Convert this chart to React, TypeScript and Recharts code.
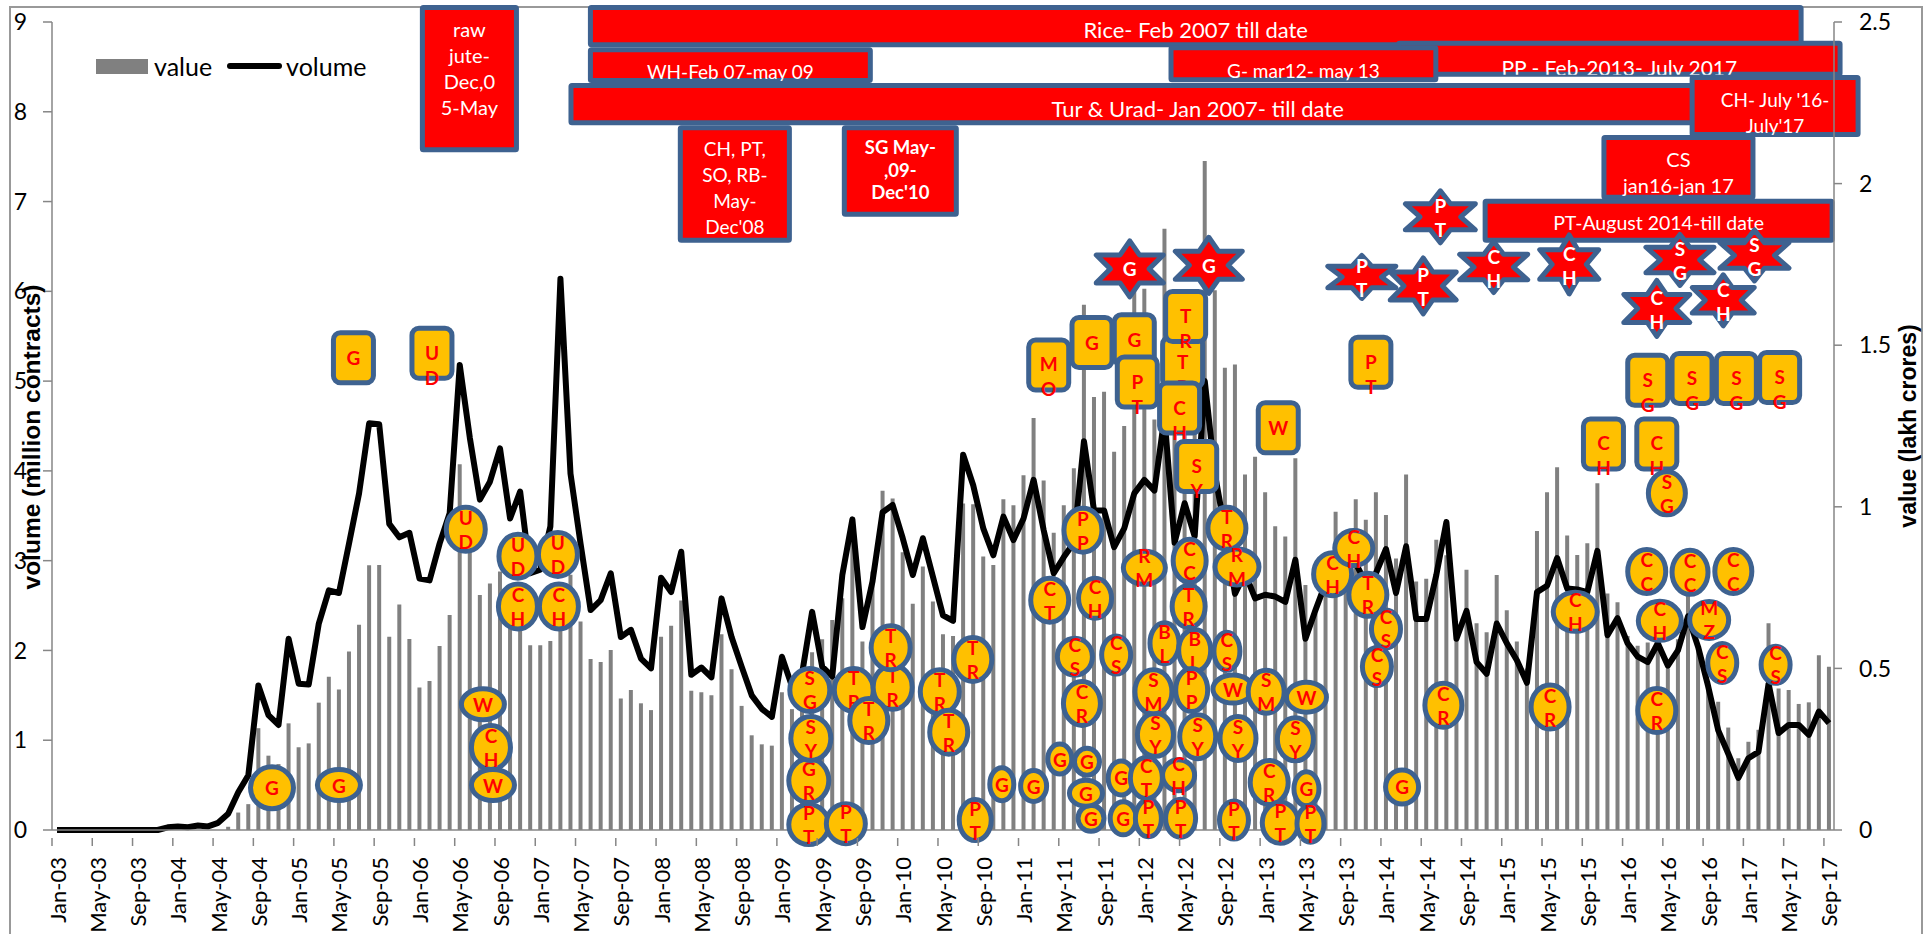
// Monthly commodity futures volume and value, with the suspension banners and
// commodity markers laid over it. Notes sit on a hidden numeric month axis.

import {
  Bar,
  ComposedChart,
  Legend,
  Line,
  ReferenceArea,
  ReferenceDot,
  XAxis,
  YAxis,
} from 'recharts';

const monthNames = ['Jan', 'Feb', 'Mar', 'Apr', 'May', 'Jun', 'Jul', 'Aug', 'Sep', 'Oct', 'Nov', 'Dec'];
const years = ['03', '04', '05', '06', '07', '08', '09', '10', '11', '12', '13', '14', '15', '16', '17'];
const months = years.flatMap((y) => monthNames.map((m) => `${m}-${y}`)).slice(0, 177);

// million contracts, left axis
const volume = [
  0, 0, 0, 0, 0, 0, 0, 0, 0, 0,
  0, 0.03, 0.04, 0.03, 0.05, 0.04, 0.08, 0.18, 0.42, 0.61,
  1.61, 1.28, 1.17, 2.13, 1.63, 1.62, 2.3, 2.67, 2.64, 3.19,
  3.75, 4.53, 4.52, 3.41, 3.26, 3.31, 2.8, 2.78, 3.19, 3.53,
  5.18, 4.37, 3.68, 3.88, 4.25, 3.47, 3.77, 2.86, 2.9, 3.38,
  6.14, 3.97, 3.19, 2.45, 2.56, 2.86, 2.15, 2.23, 1.91, 1.8,
  2.81, 2.65, 3.1, 1.73, 1.81, 1.7, 2.58, 2.15, 1.82, 1.5,
  1.35, 1.26, 1.93, 1.6, 1.74, 2.43, 1.82, 1.71, 2.84, 3.46,
  2.26, 2.77, 3.54, 3.62, 3.25, 2.84, 3.25, 2.82, 2.39, 2.33,
  4.18, 3.84, 3.36, 3.06, 3.49, 3.23, 3.47, 3.9, 3.34, 2.86,
  3.04, 3.2, 4.33, 3.56, 3.56, 3.15, 3.36, 3.75, 3.9, 3.78,
  4.6, 3.2, 3.64, 3.27, 5.0, 3.97, 3.34, 2.63, 2.86, 2.58,
  2.62, 2.6, 2.54, 3.01, 2.13, 2.45, 2.75, 2.9, 2.95, 2.97,
  2.75, 2.86, 3.13, 2.64, 3.16, 2.35, 2.35, 2.84, 3.43, 2.13,
  2.44, 1.87, 1.74, 2.3, 2.08, 1.89, 1.64, 2.65, 2.72, 3.03,
  2.69, 2.68, 2.65, 3.11, 2.17, 2.36, 2.08, 1.93, 1.87, 2.08,
  1.83, 2.0, 2.38, 2.04, 1.6, 1.11, 0.85, 0.58, 0.8, 0.87,
  1.63, 1.08, 1.17, 1.17, 1.06, 1.32, 1.19,
];

// lakh crores, right axis
const value = [
  0, 0, 0, 0, 0, 0, 0, 0, 0, 0,
  0, 0, 0, 0, 0, 0, 0, 0.01, 0.054, 0.08,
  0.315, 0.23, 0.204, 0.33, 0.256, 0.268, 0.394, 0.474, 0.435, 0.552,
  0.635, 0.819, 0.82, 0.598, 0.698, 0.591, 0.441, 0.461, 0.569, 0.665,
  1.132, 0.86, 0.727, 0.763, 0.8, 0.73, 0.7, 0.572, 0.572, 0.585,
  0.65, 0.79, 0.645, 0.529, 0.52, 0.557, 0.407, 0.433, 0.392, 0.371,
  0.598, 0.632, 0.71, 0.431, 0.426, 0.417, 0.606, 0.497, 0.384, 0.293,
  0.265, 0.261, 0.426, 0.374, 0.42, 0.55, 0.59, 0.65, 0.717, 0.95,
  0.583, 0.8, 1.05, 1.026, 0.859, 0.7, 0.815, 0.707, 0.606, 0.6,
  1.01, 1.008, 0.846, 0.82, 1.023, 1.005, 1.098, 1.275, 1.081, 0.92,
  1.005, 1.119, 1.625, 1.34, 1.356, 1.17, 1.25, 1.67, 1.675, 1.27,
  1.86, 1.3, 1.35, 1.4, 2.07, 1.67, 1.43, 1.44, 1.1, 1.155,
  1.045, 0.94, 0.908, 1.15, 0.758, 0.67, 0.75, 0.985, 0.8, 1.023,
  0.96, 1.045, 0.975, 0.84, 1.1, 0.769, 0.777, 0.898, 0.85, 0.6,
  0.805, 0.64, 0.612, 0.789, 0.68, 0.583, 0.5, 0.925, 1.045, 1.122,
  0.911, 0.851, 0.887, 1.073, 0.732, 0.705, 0.6, 0.57, 0.58, 0.6,
  0.5, 0.59, 0.73, 0.57, 0.46, 0.397, 0.317, 0.222, 0.273, 0.31,
  0.64, 0.438, 0.433, 0.39, 0.395, 0.541, 0.505,
];

const leftTicks = [0, 1, 2, 3, 4, 5, 6, 7, 8, 9];
const rightTicks = [0, 0.5, 1, 1.5, 2, 2.5];

// [lines, month from, month to, volume top, volume bottom]
const banners: [string[], number, number, number, number][] = [
  [['raw', 'jute-', 'Dec,0', '5-May'], 36.54, 46.38, 9.19, 7.55],
  [['CH, PT,', 'SO, RB-', 'May-', "Dec'08"], 62.16, 73.49, 7.85, 6.54],
  [['SG May-', ',09-', "Dec'10"], 78.45, 90.07, 7.85, 6.83],
  [['Rice- Feb 2007  till date'], 53.23, 173.98, 9.19, 8.72],
  [['WH-Feb 07-may 09'], 53.23, 81.53, 8.72, 8.32],
  [['PP - Feb-2013- July 2017'], 133.5, 177.85, 8.79, 8.39],
  [['G- mar12- may 13'], 110.9, 137.7, 8.74, 8.33],
  [['Tur & Urad- Jan 2007- till date'], 51.3, 176.3, 8.32, 7.85],
  [["CH- July '16-", "July'17"], 162.66, 179.64, 8.41, 7.72],
  [['CS', 'jan16-jan 17'], 153.9, 169.2, 7.74, 7.02],
  [['PT-August 2014-till date'], 142.1, 177.06, 7.03, 6.54],
];
const bannerFontSizes = [20, 19, 18.5, 22, 19, 21, 19, 22, 19, 20, 19.5];
const bannerTextTops = [24, 23, 22, 25, 24, 27, 25, 25, 25, 24, 24];

// [label, month, volume level]
const tags: [string, number, number][] = [
  ['G', 29.94, 5.26], ['UD', 37.74, 5.31], ['MO', 99.0, 5.18], ['G', 103.3, 5.43],
  ['G', 107.5, 5.46], ['PT', 107.8, 4.99], ['TR', 112.3, 5.21], ['TR', 112.6, 5.72],
  ['CH', 112.0, 4.7], ['SY', 113.7, 4.05], ['W', 121.8, 4.48], ['PT', 131.0, 5.21],
  ['SG', 158.5, 5.01], ['SG', 162.9, 5.03], ['SG', 167.3, 5.03], ['SG', 171.6, 5.04],
  ['CH', 154.1, 4.3], ['CH', 159.4, 4.3],
];

// [label, month, volume level, width, height]
const ovals: [string, number, number, number, number][] = [
  ['G', 21.85, 0.47, 47, 46], ['G', 28.5, 0.5, 47, 35], ['UD', 41.1, 3.35, 43, 48],
  ['UD', 46.28, 3.05, 42, 48], ['UD', 50.25, 3.07, 43, 48], ['CH', 46.28, 2.49, 43, 49],
  ['CH', 50.35, 2.49, 43, 49], ['W', 42.8, 1.4, 47, 35], ['CH', 43.6, 0.92, 43, 48],
  ['W', 43.8, 0.5, 47, 35], ['PT', 75.17, 0.06, 44, 44], ['GR', 75.17, 0.55, 44, 48],
  ['SY', 75.37, 1.02, 44, 48], ['SG', 75.27, 1.56, 44, 47], ['PT', 78.85, 0.07, 43, 44],
  ['TR', 79.64, 1.56, 43, 47], ['TR', 83.5, 1.59, 43, 48], ['TR', 81.13, 1.22, 42, 48],
  ['TR', 83.3, 2.03, 43, 48], ['TR', 88.18, 1.54, 43, 48], ['TR', 89.07, 1.09, 42, 48],
  ['TR', 91.46, 1.9, 42, 48], ['PT', 91.7, 0.11, 36, 45], ['G', 94.34, 0.51, 28, 37],
  ['G', 97.5, 0.49, 30, 35], ['G', 100.1, 0.79, 28, 34], ['G', 102.8, 0.76, 29, 31],
  ['G', 103.2, 0.13, 30, 30], ['G', 102.7, 0.41, 37, 30], ['G', 106.4, 0.13, 30, 37],
  ['G', 106.2, 0.58, 30, 38], ['CH', 111.9, 0.61, 36, 35], ['CT', 108.7, 0.58, 36, 45],
  ['PT', 108.9, 0.13, 30, 41], ['PT', 112.1, 0.13, 34, 42], ['PT', 117.4, 0.11, 33, 42],
  ['CR', 120.9, 0.53, 42, 48], ['PT', 122.0, 0.08, 40, 45], ['SY', 109.6, 1.06, 40, 47],
  ['SY', 113.8, 1.04, 40, 48], ['SY', 117.8, 1.02, 40, 48], ['SM', 109.4, 1.54, 41, 48],
  ['BL', 110.5, 2.08, 33, 45], ['BL', 113.5, 2.0, 36, 46], ['PP', 113.2, 1.56, 36, 47],
  ['CS', 116.7, 1.99, 30, 42], ['W', 117.3, 1.57, 44, 32], ['SM', 120.6, 1.54, 40, 47],
  ['CS', 101.6, 1.93, 39, 41], ['CR', 102.3, 1.41, 41, 48], ['CS', 105.7, 1.95, 33, 42],
  ['CT', 99.1, 2.56, 42, 48], ['CH', 103.6, 2.58, 37, 44], ['PP', 102.4, 3.34, 42, 48],
  ['RM', 108.5, 2.92, 46, 37], ['CC', 113.0, 3.0, 37, 47], ['TR', 112.9, 2.49, 37, 46],
  ['TR', 116.7, 3.36, 42, 46], ['RM', 117.7, 2.93, 48, 40], ['W', 124.6, 1.48, 44, 34],
  ['SY', 123.5, 1.01, 40, 47], ['G', 124.6, 0.46, 29, 38], ['PT', 125.0, 0.07, 31, 41],
  ['CH', 127.2, 2.85, 42, 47], ['CH', 129.3, 3.14, 42, 39], ['TR', 130.7, 2.62, 42, 47],
  ['CS', 132.5, 2.24, 33, 42], ['CS', 131.6, 1.82, 33, 42], ['G', 134.1, 0.48, 37, 38],
  ['CR', 138.2, 1.39, 41, 48], ['CR', 148.8, 1.37, 42, 48], ['CR', 159.4, 1.33, 42, 48],
  ['CH', 151.3, 2.43, 48, 43], ['SG', 160.4, 3.75, 41, 47], ['CC', 158.4, 2.88, 42, 48],
  ['CC', 162.7, 2.87, 40, 48], ['CC', 167.0, 2.88, 41, 48], ['CH', 159.7, 2.33, 47, 43],
  ['MZ', 164.6, 2.34, 43, 41], ['CS', 165.9, 1.86, 33, 43], ['CS', 171.2, 1.84, 33, 41],
];

// [label, month, volume level, width, height]
const stars: [string, number, number, number, number][] = [
  ['G', 107.05, 6.25, 71, 60], ['G', 114.9, 6.29, 71, 60], ['PT', 137.9, 6.83, 74, 56],
  ['PT', 130.1, 6.16, 72, 47], ['PT', 136.2, 6.06, 70, 60], ['CH', 143.2, 6.27, 72, 55],
  ['CH', 150.7, 6.3, 63, 63], ['SG', 161.7, 6.35, 72, 55], ['SG', 169.1, 6.4, 73, 55],
  ['CH', 166.0, 5.9, 66, 55], ['CH', 159.4, 5.81, 70, 60],
];

const chartData = months.map((month, i) => ({ month, value: value[i], volume: volume[i] }));

// the hidden month axis runs over the 176 steps between first and last point
const onAxis = (m: number) => (m * 176) / 177;

const FONT = 'Lato, sans-serif';
const TITLE_FONT = '"Liberation Sans", Arial, sans-serif';
const BLUE = '#3E6290';
const AXIS = '#868686';
const BAND = 10.07;

function MonthTick({ x, y, payload }: any) {
  return (
    <g>
      <line x1={x - BAND / 2} x2={x - BAND / 2} y1={y} y2={y + 8} stroke={AXIS} strokeWidth={1.5} />
      <text
        x={x}
        y={y + 19}
        transform={`rotate(-90 ${x} ${y + 19})`}
        textAnchor="end"
        dominantBaseline="central"
        fontFamily={FONT}
        fontSize={22}
        fill="#000"
      >
        {payload.value}
      </text>
    </g>
  );
}

function Letters({ cx, cy, label, fill, offsets }: any) {
  const chars = label.split('');
  return chars.map((c: string, i: number) => (
    <text
      key={i}
      x={cx}
      y={cy + (chars.length > 1 ? offsets[i] : 0)}
      textAnchor="middle"
      dominantBaseline="central"
      fontFamily={FONT}
      fontWeight={700}
      fontSize={19}
      fill={fill}
    >
      {c}
    </text>
  ));
}

function Tag({ cx, cy, label }: any) {
  return (
    <g>
      <rect x={cx - 20} y={cy - 25} width={40} height={50} rx={7} fill="#FFC000" stroke={BLUE} strokeWidth={5} />
      <Letters cx={cx} cy={cy} label={label} fill="#FF0000" offsets={[-1, 24]} />
    </g>
  );
}

function Oval({ cx, cy, label, w, h }: any) {
  return (
    <g>
      <ellipse cx={cx} cy={cy} rx={w / 2 - 2} ry={h / 2 - 2} fill="#FFC000" stroke={BLUE} strokeWidth={5} />
      <Letters cx={cx} cy={cy} label={label} fill="#FF0000" offsets={[-12, 12]} />
    </g>
  );
}

function Star({ cx, cy, label, w, h }: any) {
  const a = w / 2 - 2;
  const b = h / 2 - 2;
  const pts = [
    [0, -1], [0.29, -0.5], [1, -0.5], [0.58, 0], [1, 0.5], [0.29, 0.5],
    [0, 1], [-0.29, 0.5], [-1, 0.5], [-0.58, 0], [-1, -0.5], [-0.29, -0.5],
  ]
    .map(([px, py]) => `${cx + px * a},${cy + py * b}`)
    .join(' ');
  return (
    <g>
      <polygon points={pts} fill="#FF0000" stroke={BLUE} strokeWidth={5} strokeLinejoin="round" />
      <Letters cx={cx} cy={cy} label={label} fill="#FFF" offsets={[-11, 13]} />
    </g>
  );
}

function Banner({ x, y, width, height, lines, fontSize, textTop }: any) {
  const bold = lines[0] === 'SG May-';
  return (
    <g>
      <rect
        x={x + 2.5}
        y={y + 2.5}
        width={width - 5}
        height={height - 5}
        rx={1}
        fill="#FF0000"
        stroke={BLUE}
        strokeWidth={5}
        strokeLinejoin="round"
      />
      <svg x={x} y={y} width={width} height={height - 2}>
        {lines.map((line: string, i: number) => (
          <text
            key={i}
            x={width / 2}
            y={textTop + i * (bold ? 22.5 : 26)}
            textAnchor="middle"
            dominantBaseline="central"
            fontFamily={FONT}
            fontWeight={bold ? 700 : 400}
            fontSize={fontSize}
            fill="#FFF"
          >
            {line}
          </text>
        ))}
      </svg>
    </g>
  );
}

function LegendRow({ payload }: any) {
  return (
    <div style={{ display: 'flex', alignItems: 'center', fontFamily: FONT, fontSize: 25, color: '#000', lineHeight: '30px' }}>
      {(payload ?? []).map((item: any) => (
        <div key={item.value} style={{ display: 'flex', alignItems: 'center' }}>
          {item.value === 'value' ? (
            <div style={{ width: 52, height: 15, background: '#808080', marginRight: 6 }} />
          ) : (
            <div style={{ width: 55, height: 6, borderRadius: 3, background: '#000', margin: '0 4px 0 15px' }} />
          )}
          <span>{item.value}</span>
        </div>
      ))}
    </div>
  );
}

export default function App() {
  return (
    <div style={{ position: 'absolute', left: 0, top: 0, width: 1929, height: 934, overflow: 'hidden', background: '#fff' }}>
      <div
        style={{
          position: 'absolute',
          left: 9,
          top: 6,
          width: 1910,
          height: 930,
          borderTop: '2px solid #999',
          borderLeft: '2px solid #999',
          borderRight: '2px solid #999',
        }}
      />
      <div style={{ position: 'absolute', left: 0, top: 0 }}>
        <ComposedChart
          width={1929}
          height={934}
          data={chartData}
          margin={{ top: 22, right: 0, bottom: 0, left: 0 }}
          barCategoryGap={0}
        >
          <XAxis
            dataKey="month"
            interval={3}
            height={104}
            tickLine={false}
            tick={<MonthTick />}
            stroke={AXIS}
            strokeWidth={1.5}
          />
          <XAxis xAxisId="pos" type="number" domain={[0, 177]} allowDataOverflow hide />
          <YAxis
            yAxisId="vol"
            domain={[0, 9]}
            ticks={leftTicks}
            interval={0}
            width={52}
            tickSize={9}
            tickMargin={16}
            stroke={AXIS}
            strokeWidth={1.5}
            tick={{ fill: '#000', fontFamily: FONT, fontSize: 23 }}
            label={{
              value: 'volume (million contracts)',
              angle: -90,
              position: 'insideLeft',
              dx: 26,
              dy: 11,
              style: { textAnchor: 'middle', fontFamily: TITLE_FONT, fontWeight: 700, fontSize: 24.5, fill: '#000' },
            }}
          />
          <YAxis
            yAxisId="val"
            orientation="right"
            domain={[0, 2.5]}
            ticks={rightTicks}
            interval={0}
            width={95}
            tickSize={8}
            tickMargin={17}
            stroke={AXIS}
            strokeWidth={1.5}
            tick={{ fill: '#000', fontFamily: FONT, fontSize: 23 }}
            label={{
              value: 'value (lakh crores)',
              angle: -90,
              position: 'insideRight',
              dx: -16,
              dy: 0,
              style: { textAnchor: 'middle', fontFamily: TITLE_FONT, fontWeight: 700, fontSize: 23, fill: '#000' },
            }}
          />
          <Legend
            verticalAlign="top"
            align="left"
            content={<LegendRow />}
            wrapperStyle={{ position: 'absolute', left: 96, top: 51, width: 320, height: 0 }}
          />
          <Bar yAxisId="val" dataKey="value" name="value" fill="#808080" barSize={4} isAnimationActive={false} />
          <Line
            yAxisId="vol"
            dataKey="volume"
            name="volume"
            stroke="#000"
            strokeWidth={6}
            dot={false}
            type="linear"
            strokeLinejoin="round"
            isAnimationActive={false}
          />
          {banners.map(([lines, from, to, top, bottom], i) => (
            <ReferenceArea
              key={`banner-${i}`}
              xAxisId="pos"
              yAxisId="vol"
              x1={onAxis(from)}
              x2={onAxis(to)}
              y1={top}
              y2={bottom}
              ifOverflow="visible"
              shape={(props: any) => (
                <Banner {...props} lines={lines} fontSize={bannerFontSizes[i]} textTop={bannerTextTops[i]} />
              )}
            />
          ))}
          {tags.map(([label, m, level], i) => (
            <ReferenceDot
              key={`tag-${i}`}
              xAxisId="pos"
              yAxisId="vol"
              x={onAxis(m)}
              y={level}
              ifOverflow="visible"
              shape={(props: any) => <Tag {...props} label={label} />}
            />
          ))}
          {ovals.map(([label, m, level, w, h], i) => (
            <ReferenceDot
              key={`oval-${i}`}
              xAxisId="pos"
              yAxisId="vol"
              x={onAxis(m)}
              y={level}
              ifOverflow="visible"
              shape={(props: any) => <Oval {...props} label={label} w={w} h={h} />}
            />
          ))}
          {stars.map(([label, m, level, w, h], i) => (
            <ReferenceDot
              key={`star-${i}`}
              xAxisId="pos"
              yAxisId="vol"
              x={onAxis(m)}
              y={level}
              ifOverflow="visible"
              shape={(props: any) => <Star {...props} label={label} w={w} h={h} />}
            />
          ))}
        </ComposedChart>
      </div>
    </div>
  );
}
